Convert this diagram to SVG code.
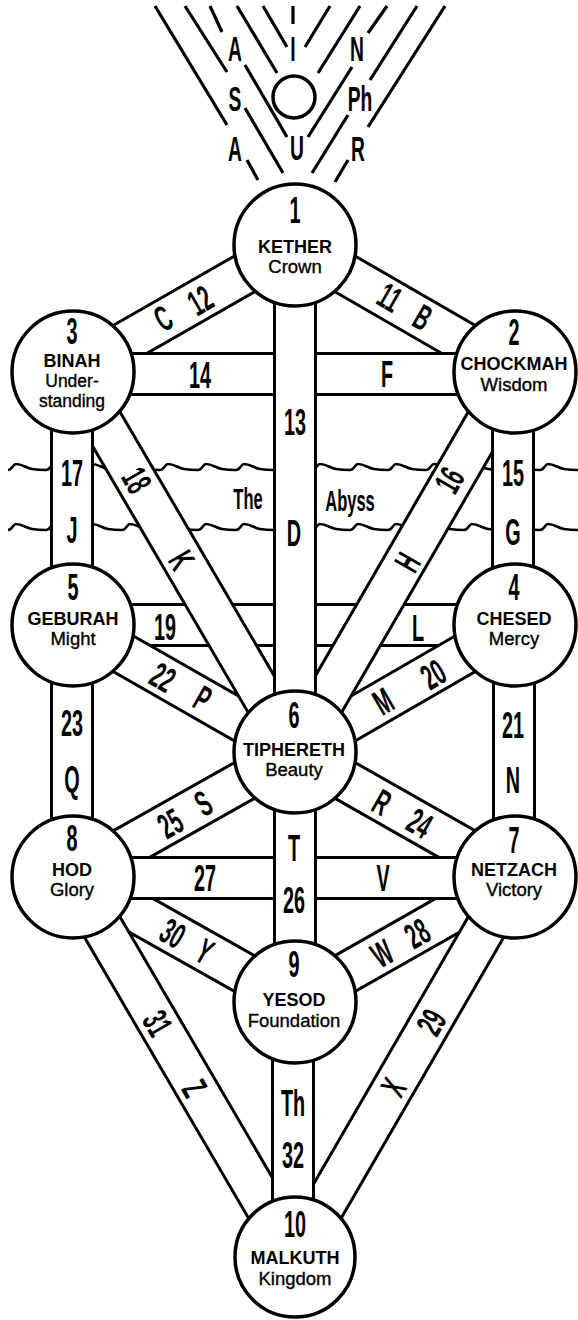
<svg xmlns="http://www.w3.org/2000/svg" width="578" height="1320" viewBox="0 0 578 1320">
<style>
.bg{fill:#fff}
.ray{stroke:#000;stroke-width:3.2;fill:none;stroke-linecap:butt}
.wave{stroke:#000;stroke-width:2.6;fill:none}
.bo{stroke:#000;stroke-width:44;stroke-linecap:butt}
.bi{stroke:#fff;stroke-width:38;stroke-linecap:butt}
.node circle{fill:#fff;stroke:#000;stroke-width:3.5}
.c{font-family:"Liberation Sans",Arial,sans-serif;font-weight:bold;font-size:36px;text-anchor:middle;fill:#000}
.c2{font-family:"Liberation Sans",Arial,sans-serif;font-weight:bold;font-size:30px;text-anchor:middle;fill:#000}
.c3{font-family:"Liberation Sans",Arial,sans-serif;font-weight:bold;font-size:35px;text-anchor:middle;fill:#000}
.nm{font-family:"Liberation Sans",Arial,sans-serif;font-weight:bold;font-size:18px;text-anchor:middle;fill:#000}
.sb{font-family:"Liberation Sans",Arial,sans-serif;font-size:18.5px;text-anchor:middle;fill:#000;stroke:#000;stroke-width:0.35}
.sb2{font-family:"Liberation Sans",Arial,sans-serif;font-size:17.5px;text-anchor:middle;fill:#000;stroke:#000;stroke-width:0.35}
</style>
<defs>
<line id="l11" x1="295" y1="245" x2="515" y2="372"/>
<line id="l12" x1="73" y1="372" x2="295" y2="245"/>
<line id="l13" x1="295" y1="245" x2="295" y2="752"/>
<line id="l14" x1="73" y1="374" x2="515" y2="374"/>
<line id="l15" x1="513" y1="372" x2="513" y2="625"/>
<line id="l16" x1="515" y1="372" x2="295" y2="752"/>
<line id="l17" x1="72" y1="372" x2="72" y2="625"/>
<line id="l18" x1="73" y1="372" x2="295" y2="752"/>
<line id="l19" x1="73" y1="625" x2="515" y2="625"/>
<line id="l20" x1="515" y1="625" x2="295" y2="752"/>
<line id="l21" x1="514" y1="625" x2="514" y2="877"/>
<line id="l22" x1="73" y1="625" x2="295" y2="752"/>
<line id="l23" x1="72" y1="625" x2="72" y2="877"/>
<line id="l24" x1="295" y1="752" x2="515" y2="877"/>
<line id="l25" x1="73" y1="877" x2="295" y2="752"/>
<line id="l26" x1="295" y1="752" x2="295" y2="1002"/>
<line id="l27" x1="73" y1="878" x2="515" y2="878"/>
<line id="l28" x1="295" y1="1002" x2="515" y2="877"/>
<line id="l29" x1="515" y1="877" x2="295" y2="1257"/>
<line id="l30" x1="73" y1="877" x2="295" y2="1002"/>
<line id="l31" x1="73" y1="877" x2="295" y2="1257"/>
<line id="l32" x1="293" y1="1002" x2="293" y2="1257"/>
</defs>
<rect class="bg" x="0" y="0" width="578" height="1320"/>

<g id="rays">
<line class="ray" x1="155" y1="6" x2="227" y2="125"/>
<line class="ray" x1="247" y1="160" x2="258" y2="180"/>
<line class="ray" x1="185" y1="6" x2="227" y2="72"/>
<line class="ray" x1="245" y1="108" x2="283" y2="173"/>
<line class="ray" x1="210" y1="6" x2="222" y2="32"/>
<line class="ray" x1="245" y1="65" x2="287" y2="137"/>
<line class="ray" x1="237" y1="6" x2="277" y2="73"/>
<line class="ray" x1="263" y1="6" x2="287" y2="47"/>
<line class="ray" x1="293" y1="6" x2="293" y2="24"/>
<line class="ray" x1="330" y1="6" x2="305" y2="47"/>
<line class="ray" x1="360" y1="6" x2="318" y2="73"/>
<line class="ray" x1="387" y1="6" x2="368" y2="33"/>
<line class="ray" x1="352" y1="67" x2="308" y2="137"/>
<line class="ray" x1="417" y1="6" x2="370" y2="80"/>
<line class="ray" x1="348" y1="115" x2="312" y2="173"/>
<line class="ray" x1="445" y1="6" x2="368" y2="127"/>
<line class="ray" x1="348" y1="160" x2="335" y2="182"/>
<circle cx="294" cy="97" r="21" fill="none" stroke="#000" stroke-width="3.5"/>
<text class="c3" transform="translate(235,48) scale(0.55,1)" dy="0.36em">A</text>
<text class="c3" transform="translate(235,98) scale(0.55,1)" dy="0.36em">S</text>
<text class="c3" transform="translate(235,148) scale(0.55,1)" dy="0.36em">A</text>
<text class="c3" transform="translate(293,48) scale(0.55,1)" dy="0.36em">I</text>
<text class="c3" transform="translate(297,147) scale(0.55,1)" dy="0.36em">U</text>
<text class="c3" transform="translate(357,48) scale(0.55,1)" dy="0.36em">N</text>
<text class="c3" transform="translate(360,98) scale(0.55,1)" dy="0.36em">Ph</text>
<text class="c3" transform="translate(358,148) scale(0.55,1)" dy="0.36em">R</text>
</g>

<g id="abyss">
<path class="wave" d="M8,470 c4,0 5,-6 8,-6 c6,0 10,4 16,5 c6,1 10,1 14,1 c4,0 5,-6 8,-6 c6,0 10,4 16,5 c6,1 10,1 14,1 c4,0 5,-6 8,-6 c6,0 10,4 16,5 c6,1 10,1 14,1 c4,0 5,-6 8,-6 c6,0 10,4 16,5 c6,1 10,1 14,1 c4,0 5,-6 8,-6 c6,0 10,4 16,5 c6,1 10,1 14,1 c4,0 5,-6 8,-6 c6,0 10,4 16,5 c6,1 10,1 14,1 c4,0 5,-6 8,-6 c6,0 10,4 16,5 c6,1 10,1 14,1 c4,0 5,-6 8,-6 c6,0 10,4 16,5 c6,1 10,1 14,1 c4,0 5,-6 8,-6 c6,0 10,4 16,5 c6,1 10,1 14,1 c4,0 5,-6 8,-6 c6,0 10,4 16,5 c6,1 10,1 14,1 c4,0 5,-6 8,-6 c6,0 10,4 16,5 c6,1 10,1 14,1 c4,0 5,-6 8,-6 c6,0 10,4 16,5 c6,1 10,1 14,1 c4,0 5,-6 8,-6 c6,0 10,4 16,5 c6,1 10,1 14,1 c4,0 5,-6 8,-6 c6,0 10,4 16,5 c6,1 10,1 14,1 c4,0 5,-6 8,-6 c6,0 10,4 16,5 c6,1 10,1 14,1"/>
<path class="wave" d="M8,530 c4,0 5,-6 8,-6 c6,0 10,4 16,5 c6,1 10,1 14,1 c4,0 5,-6 8,-6 c6,0 10,4 16,5 c6,1 10,1 14,1 c4,0 5,-6 8,-6 c6,0 10,4 16,5 c6,1 10,1 14,1 c4,0 5,-6 8,-6 c6,0 10,4 16,5 c6,1 10,1 14,1 c4,0 5,-6 8,-6 c6,0 10,4 16,5 c6,1 10,1 14,1 c4,0 5,-6 8,-6 c6,0 10,4 16,5 c6,1 10,1 14,1 c4,0 5,-6 8,-6 c6,0 10,4 16,5 c6,1 10,1 14,1 c4,0 5,-6 8,-6 c6,0 10,4 16,5 c6,1 10,1 14,1 c4,0 5,-6 8,-6 c6,0 10,4 16,5 c6,1 10,1 14,1 c4,0 5,-6 8,-6 c6,0 10,4 16,5 c6,1 10,1 14,1 c4,0 5,-6 8,-6 c6,0 10,4 16,5 c6,1 10,1 14,1 c4,0 5,-6 8,-6 c6,0 10,4 16,5 c6,1 10,1 14,1 c4,0 5,-6 8,-6 c6,0 10,4 16,5 c6,1 10,1 14,1 c4,0 5,-6 8,-6 c6,0 10,4 16,5 c6,1 10,1 14,1 c4,0 5,-6 8,-6 c6,0 10,4 16,5 c6,1 10,1 14,1"/>
</g>

<g id="connectors">
<use href="#l12" class="bo"/><use href="#l12" class="bi"/>
<use href="#l11" class="bo"/><use href="#l11" class="bi"/>
<use href="#l14" class="bo"/><use href="#l14" class="bi"/>
<use href="#l19" class="bo"/><use href="#l19" class="bi"/>
<use href="#l22" class="bo"/><use href="#l22" class="bi"/>
<use href="#l20" class="bo"/><use href="#l20" class="bi"/>
<use href="#l18" class="bo"/><use href="#l18" class="bi"/>
<use href="#l16" class="bo"/><use href="#l16" class="bi"/>
<use href="#l17" class="bo"/><use href="#l17" class="bi"/>
<use href="#l15" class="bo"/><use href="#l15" class="bi"/>
<use href="#l23" class="bo"/><use href="#l23" class="bi"/>
<use href="#l21" class="bo"/><use href="#l21" class="bi"/>
<use href="#l13" class="bo"/><use href="#l13" class="bi"/>
<use href="#l25" class="bo"/><use href="#l25" class="bi"/>
<use href="#l24" class="bo"/><use href="#l24" class="bi"/>
<use href="#l30" class="bo"/><use href="#l30" class="bi"/>
<use href="#l28" class="bo"/><use href="#l28" class="bi"/>
<use href="#l27" class="bo"/><use href="#l27" class="bi"/>
<use href="#l26" class="bo"/><use href="#l26" class="bi"/>
<use href="#l31" class="bo"/><use href="#l31" class="bi"/>
<use href="#l29" class="bo"/><use href="#l29" class="bi"/>
<use href="#l32" class="bo"/><use href="#l32" class="bi"/>

<text class="c" transform="translate(200,300) rotate(-30) scale(0.55,1)" dy="0.36em">12</text>
<text class="c" transform="translate(163,318) rotate(-30) scale(0.55,1)" dy="0.36em">C</text>
<text class="c" transform="translate(390,297) rotate(30) scale(0.55,1)" dy="0.36em">11</text>
<text class="c" transform="translate(423,317) rotate(30) scale(0.55,1)" dy="0.36em">B</text>
<text class="c" transform="translate(200,375) scale(0.55,1)" dy="0.36em">14</text>
<text class="c" transform="translate(387,374) scale(0.55,1)" dy="0.36em">F</text>
<text class="c" transform="translate(295,422) scale(0.55,1)" dy="0.36em">13</text>
<text class="c" transform="translate(294,533) scale(0.55,1)" dy="0.36em">D</text>
<text class="c" transform="translate(72,473) scale(0.55,1)" dy="0.36em">17</text>
<text class="c" transform="translate(72,530) scale(0.55,1)" dy="0.36em">J</text>
<text class="c" transform="translate(513,473) scale(0.55,1)" dy="0.36em">15</text>
<text class="c" transform="translate(513,532) scale(0.55,1)" dy="0.36em">G</text>
<text class="c" transform="translate(137,480) rotate(60) scale(0.55,1)" dy="0.36em">18</text>
<text class="c" transform="translate(182,560) rotate(60) scale(0.55,1)" dy="0.36em">K</text>
<text class="c" transform="translate(449,480) rotate(-60) scale(0.55,1)" dy="0.36em">16</text>
<text class="c" transform="translate(407,562) rotate(-60) scale(0.55,1)" dy="0.36em">H</text>
<text class="c2" transform="translate(248,498) scale(0.55,1)" dy="0.36em">The</text>
<text class="c2" transform="translate(350,500) scale(0.55,1)" dy="0.36em">Abyss</text>
<text class="c" transform="translate(165,627) scale(0.55,1)" dy="0.36em">19</text>
<text class="c" transform="translate(418,628) scale(0.55,1)" dy="0.36em">L</text>
<text class="c" transform="translate(163,677) rotate(30) scale(0.55,1)" dy="0.36em">22</text>
<text class="c" transform="translate(203,698) rotate(30) scale(0.55,1)" dy="0.36em">P</text>
<text class="c" transform="translate(433,674) rotate(-30) scale(0.55,1)" dy="0.36em">20</text>
<text class="c" transform="translate(383,701) rotate(-30) scale(0.55,1)" dy="0.36em">M</text>
<text class="c" transform="translate(72,723) scale(0.55,1)" dy="0.36em">23</text>
<text class="c" transform="translate(72,779) scale(0.55,1)" dy="0.36em">Q</text>
<text class="c" transform="translate(513,725) scale(0.55,1)" dy="0.36em">21</text>
<text class="c" transform="translate(513,780) scale(0.55,1)" dy="0.36em">N</text>
<text class="c" transform="translate(170,823) rotate(-29.5) scale(0.55,1)" dy="0.36em">25</text>
<text class="c" transform="translate(203,803) rotate(-29.5) scale(0.55,1)" dy="0.36em">S</text>
<text class="c" transform="translate(420,823) rotate(29.5) scale(0.55,1)" dy="0.36em">24</text>
<text class="c" transform="translate(382,802) rotate(29.5) scale(0.55,1)" dy="0.36em">R</text>
<text class="c" transform="translate(294,848) scale(0.55,1)" dy="0.36em">T</text>
<text class="c" transform="translate(294,900) scale(0.55,1)" dy="0.36em">26</text>
<text class="c" transform="translate(205,878) scale(0.55,1)" dy="0.36em">27</text>
<text class="c" transform="translate(383,878) scale(0.55,1)" dy="0.36em">V</text>
<text class="c" transform="translate(173,933) rotate(29.5) scale(0.55,1)" dy="0.36em">30</text>
<text class="c" transform="translate(205,951) rotate(29.5) scale(0.55,1)" dy="0.36em">Y</text>
<text class="c" transform="translate(417,933) rotate(-29.5) scale(0.55,1)" dy="0.36em">28</text>
<text class="c" transform="translate(382,953) rotate(-29.5) scale(0.55,1)" dy="0.36em">W</text>
<text class="c" transform="translate(158,1023) rotate(60) scale(0.55,1)" dy="0.36em">31</text>
<text class="c" transform="translate(195,1088) rotate(60) scale(0.55,1)" dy="0.36em">Z</text>
<text class="c" transform="translate(431,1022) rotate(-60) scale(0.55,1)" dy="0.36em">29</text>
<text class="c" transform="translate(393,1087) rotate(-60) scale(0.55,1)" dy="0.36em">X</text>
<text class="c" transform="translate(293,1103) scale(0.55,1)" dy="0.36em">Th</text>
<text class="c" transform="translate(293,1155) scale(0.55,1)" dy="0.36em">32</text>
</g>

<g id="kether" class="node"><circle cx="295" cy="245" r="61"/>
<text class="c" transform="translate(295,223) scale(0.55,1)">1</text>
<text class="nm" x="295" y="253">KETHER</text><text class="sb" x="295" y="273">Crown</text></g>
<g id="binah" class="node"><circle cx="73" cy="372" r="61"/>
<text class="c" transform="translate(72,344) scale(0.55,1)">3</text>
<text class="nm" x="72" y="367">BINAH</text><text class="sb2" x="72" y="387">Under-</text><text class="sb2" x="72" y="407">standing</text></g>
<g id="chockmah" class="node"><circle cx="515" cy="372" r="61"/>
<text class="c" transform="translate(514,345) scale(0.55,1)">2</text>
<text class="nm" x="514" y="370">CHOCKMAH</text><text class="sb" x="514" y="391">Wisdom</text></g>
<g id="geburah" class="node"><circle cx="73" cy="625" r="61"/>
<text class="c" transform="translate(73,600) scale(0.55,1)">5</text>
<text class="nm" x="73" y="625">GEBURAH</text><text class="sb" x="73" y="645">Might</text></g>
<g id="chesed" class="node"><circle cx="515" cy="625" r="61"/>
<text class="c" transform="translate(514,600) scale(0.55,1)">4</text>
<text class="nm" x="514" y="625">CHESED</text><text class="sb" x="514" y="645">Mercy</text></g>
<g id="tiphereth" class="node"><circle cx="295" cy="752" r="61"/>
<text class="c" transform="translate(294,728) scale(0.55,1)">6</text>
<text class="nm" x="294" y="756">TIPHERETH</text><text class="sb" x="294" y="776">Beauty</text></g>
<g id="hod" class="node"><circle cx="73" cy="877" r="61"/>
<text class="c" transform="translate(72,851) scale(0.55,1)">8</text>
<text class="nm" x="72" y="876">HOD</text><text class="sb" x="72" y="896">Glory</text></g>
<g id="netzach" class="node"><circle cx="515" cy="877" r="61"/>
<text class="c" transform="translate(514,853) scale(0.55,1)">7</text>
<text class="nm" x="514" y="876">NETZACH</text><text class="sb" x="514" y="896">Victory</text></g>
<g id="yesod" class="node"><circle cx="295" cy="1002" r="61"/>
<text class="c" transform="translate(294,977) scale(0.55,1)">9</text>
<text class="nm" x="294" y="1006">YESOD</text><text class="sb" x="294" y="1027">Foundation</text></g>
<g id="malkuth" class="node"><circle cx="295" cy="1257" r="60"/>
<text class="c" transform="translate(295,1237) scale(0.55,1)">10</text>
<text class="nm" x="295" y="1264">MALKUTH</text><text class="sb" x="295" y="1285">Kingdom</text></g>
</svg>
